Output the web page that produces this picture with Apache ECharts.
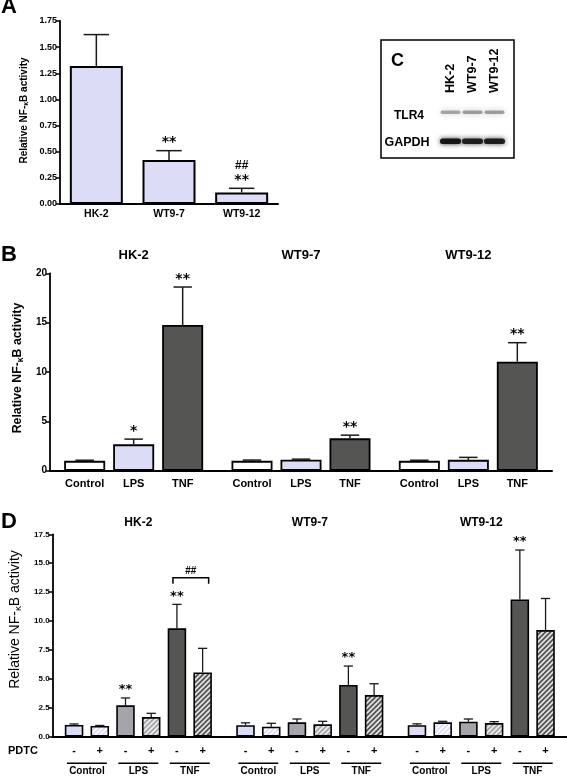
<!DOCTYPE html>
<html><head><meta charset="utf-8">
<script src="https://cdn.jsdelivr.net/npm/echarts@6/dist/echarts.min.js"></script>
<style>html,body{margin:0;padding:0;background:#fff}#c{width:567px;height:777px}</style>
</head><body><div id="c"></div>
<script>
const FONT = '"Liberation Sans", Arial, sans-serif';
const STARFONT = '"DejaVu Sans", sans-serif';

// ---------- Panel A ----------
const aCategories = ['HK-2', 'WT9-7', 'WT9-12'];
const aMeans = [1.32, 0.42, 0.11];
const aErrors = [0.30, 0.09, 0.04];
const aSig = ['', '**', '**'];
const aSig2 = ['', '', '##'];
const aTicks = [0, 1.75, 0.25];

// ---------- Panel B ----------
const bCellLines = ['HK-2', 'WT9-7', 'WT9-12'];
const bTreatments = ['Control', 'LPS', 'TNF'];
const bControl = [1.0, 1.0, 1.0];
const bLPS = [2.67, 1.12, 1.1];
const bTNF = [14.76, 3.28, 11.05];
const bControlErr = [0.06, 0.08, 0.06];
const bLPSErr = [0.53, 0.05, 0.25];
const bTNFErr = [3.85, 0.32, 1.92];
const bSigControl = ['', '', ''];
const bSigLPS = ['*', '', ''];
const bSigTNF = ['**', '**', '**'];
const bTicks = [0, 20, 5];

// ---------- Panel C (blot) ----------
const blotLanes = ['HK-2', 'WT9-7', 'WT9-12'];
const blotProteins = ['TLR4', 'GAPDH'];
const tlr4Intensity = [0.55, 0.6, 0.6];
const gapdhIntensity = [0.95, 0.88, 0.9];

// ---------- Panel D ----------
const dCellLines = ['HK-2', 'WT9-7', 'WT9-12'];
const dTreatments = ['Control', 'LPS', 'TNF'];
const dPDTC = ['-', '+'];
const dControlMinus = [1.01, 1.0, 1.0];
const dControlPlus = [0.93, 0.87, 1.24];
const dLPSMinus = [2.71, 1.24, 1.3];
const dLPSPlus = [1.70, 1.07, 1.18];
const dTNFMinus = [9.37, 4.47, 11.87];
const dTNFPlus = [5.56, 3.6, 9.22];
const dControlMinusErr = [0.09, 0.2, 0.11];
const dControlPlusErr = [0.04, 0.29, 0.09];
const dLPSMinusErr = [0.64, 0.29, 0.23];
const dLPSPlusErr = [0.32, 0.26, 0.12];
const dTNFMinusErr = [2.07, 1.64, 4.27];
const dTNFPlusErr = [2.08, 0.98, 2.73];
const dSigLPSMinus = ['**', '', ''];
const dSigTNFMinus = ['**', '**', '**'];
const dBracket = [0, 2, 13.74];   // cell line index, treatment index, level
const dBracketText = '##';
const dTicks = [0, 17.5, 2.5];

// ---------- styles ----------
const LAV = '#dcdcf6', DARK = '#555553', MID = '#a4a4aa', WHITE = '#ffffff';
const A_BAR_W = 53;
const B_BAR_W = 41, B_GAP = 0.195;
const D_BAR_W = 18.5, D_GAP = 0.39;

function hatchFill(bg, stripe) {
  const cv = document.createElement('canvas');
  const s = 5;
  cv.width = s; cv.height = s;
  const g = cv.getContext('2d');
  g.fillStyle = bg; g.fillRect(0, 0, s, s);
  g.strokeStyle = stripe; g.lineWidth = 1.7;
  g.beginPath();
  g.moveTo(-1, s + 1); g.lineTo(s + 1, -1);
  g.moveTo(-1, 1); g.lineTo(1, -1);
  g.moveTo(s - 1, s + 1); g.lineTo(s + 1, s - 1);
  g.stroke();
  return { image: cv, repeat: 'repeat' };
}
function nameStyle(size, weight, shift) {
  return { fontFamily: FONT, fontWeight: weight, fontSize: size, color: '#000',
    padding: [0, 0, 0, shift * 2],
    rich: { k: { fontFamily: FONT, fontWeight: weight, fontSize: size * 0.7, padding: [size * 0.45, 0, 0, 0], color: '#000' } } };
}
const NAME = 'Relative NF-{k|κ}B activity';

function yAxisCfg(gi, ticks, nameGap, labFont, labWeight, nameSize, nameWeight, decimals, shift) {
  return {
    type: 'value', gridIndex: gi, min: ticks[0], max: ticks[1], interval: ticks[2],
    name: NAME, nameLocation: 'middle', nameGap: nameGap, nameRotate: 90,
    nameTextStyle: nameStyle(nameSize, nameWeight, shift),
    axisLine: { show: true, onZero: false, lineStyle: { color: '#000', width: 1.8 } },
    axisTick: { show: true, length: 4, lineStyle: { color: '#000', width: 1.5 } },
    axisLabel: { margin: 3, fontFamily: FONT, fontWeight: labWeight, fontSize: labFont, color: '#000',
      formatter: v => decimals === null ? String(v) : v.toFixed(decimals) },
    splitLine: { show: false }
  };
}

function errSeries(xi, yi, meansList, errsList, sigList, sig2List, barW, gap, capRatio, starFont, starGap, lw) {
  const n = meansList.length;
  const data = [];
  meansList.forEach((arr, s) => arr.forEach((m, c) => data.push([c, s, m, errsList[s][c]])));
  return {
    type: 'custom', xAxisIndex: xi, yAxisIndex: yi, z: 5, silent: true,
    encode: { x: 0, y: 2 }, data: data,
    renderItem: (params, api) => {
      const c = api.value(0), s = api.value(1), m = api.value(2), e = api.value(3);
      const p0 = api.coord([c, m]), p1 = api.coord([c, m + e]);
      const x = p0[0] + (s - (n - 1) / 2) * barW * (1 + gap);
      const hw = barW * capRatio / 2;
      const st = { stroke: '#1a1a1a', lineWidth: lw };
      const ch = [
        { type: 'line', shape: { x1: x, y1: p0[1], x2: x, y2: p1[1] }, style: st },
        { type: 'line', shape: { x1: x - hw, y1: p1[1], x2: x + hw, y2: p1[1] }, style: st }
      ];
      const sig = sigList[s][c];
      if (sig) ch.push({ type: 'text', x: x, y: p1[1] - starGap,
        style: { text: sig, fill: '#000', font: starFont, align: 'center', verticalAlign: 'middle' } });
      const sig2 = sig2List ? sig2List[s][c] : '';
      if (sig2) ch.push({ type: 'text', x: x, y: p1[1] - starGap - 15,
        style: { text: sig2, fill: '#000', font: 'bold 12px ' + FONT, align: 'center', verticalAlign: 'middle' } });
      return { type: 'group', children: ch };
    }
  };
}

// ---------- series ----------
const series = [];
// A
series.push({ type: 'bar', xAxisIndex: 0, yAxisIndex: 0, data: aMeans, barWidth: A_BAR_W,
  itemStyle: { color: LAV, borderColor: '#000', borderWidth: 2 } });
series.push(errSeries(0, 0, [aMeans], [aErrors], [aSig], [aSig2], A_BAR_W, 0, 0.48, 'bold 14px ' + STARFONT, 8, 1.5));

// B
const bVals = [bControl, bLPS, bTNF];
const bErrs = [bControlErr, bLPSErr, bTNFErr];
const bCols = [WHITE, LAV, DARK];
bTreatments.forEach((t, i) => {
  series.push({ type: 'bar', name: t, xAxisIndex: 2, yAxisIndex: 1, data: bVals[i],
    barWidth: B_BAR_W, barGap: (B_GAP * 100) + '%',
    itemStyle: { color: bCols[i], borderColor: '#000', borderWidth: 1.8 },
    label: { show: true, position: 'bottom', distance: 8, formatter: t,
      fontFamily: FONT, fontWeight: 'bold', fontSize: 11, color: '#000' } });
});
series.push(errSeries(2, 1, bVals, bErrs, [bSigControl, bSigLPS, bSigTNF], null, B_BAR_W, B_GAP, 0.45, 'bold 14px ' + STARFONT, 8, 1.5));

// D
const dVals = [dControlMinus, dControlPlus, dLPSMinus, dLPSPlus, dTNFMinus, dTNFPlus];
const dErrs = [dControlMinusErr, dControlPlusErr, dLPSMinusErr, dLPSPlusErr, dTNFMinusErr, dTNFPlusErr];
const dFills = [LAV, hatchFill(LAV, 'rgba(255,255,255,0.95)'), MID, hatchFill(MID, 'rgba(240,240,240,0.95)'),
                DARK, hatchFill(DARK, 'rgba(235,235,235,0.95)')];
const dNoSig = ['', '', ''];
const dSigs = [dNoSig, dNoSig, dSigLPSMinus, dNoSig, dSigTNFMinus, dNoSig];
dVals.forEach((v, i) => {
  series.push({ type: 'bar', name: dTreatments[Math.floor(i / 2)] + dPDTC[i % 2], xAxisIndex: 4, yAxisIndex: 2,
    data: v, barWidth: D_BAR_W, barGap: (D_GAP * 100) + '%',
    itemStyle: { color: dFills[i], borderColor: '#000', borderWidth: 1.6 } });
});
series.push(errSeries(4, 2, dVals, dErrs, dSigs, null, D_BAR_W, D_GAP, 0.5, 'bold 13px ' + STARFONT, 8, 1.3));

// D bracket
series.push({ type: 'custom', xAxisIndex: 4, yAxisIndex: 2, z: 6, silent: true, encode: { x: 0, y: 2 },
  data: [dBracket],
  renderItem: (params, api) => {
    const c = api.value(0), t = api.value(1), lvl = api.value(2);
    const p = api.coord([c, lvl]);
    const step = D_BAR_W * (1 + D_GAP);
    const xm = p[0] + (2 * t - 2.5) * step, xp = xm + step;
    const x1 = xm - 4, x2 = xp + 6;
    return { type: 'group', children: [
      { type: 'polyline', shape: { points: [[x1, p[1] + 6], [x1, p[1]], [x2, p[1]], [x2, p[1] + 6]] },
        style: { stroke: '#000', lineWidth: 1.5, fill: null } },
      { type: 'text', x: (x1 + x2) / 2, y: p[1] - 7, style: { text: dBracketText, fill: '#000',
        font: 'bold 10px ' + FONT, align: 'center', verticalAlign: 'middle' } }
    ] };
  } });

// D bottom labels (PDTC -/+ and treatment underlines)
const dLabelData = [];
dCellLines.forEach((cl, c) => dTreatments.forEach((t, k) => dLabelData.push([c, k, 0])));
series.push({ type: 'custom', xAxisIndex: 4, yAxisIndex: 2, z: 6, silent: true, encode: { x: 0, y: 2 },
  data: dLabelData,
  renderItem: (params, api) => {
    const c = api.value(0), k = api.value(1);
    const p = api.coord([c, 0]);
    const step = D_BAR_W * (1 + D_GAP);
    const xm = p[0] + (2 * k - 2.5) * step, xp = xm + step, xc = (xm + xp) / 2;
    const f = 'bold 11px ' + FONT;
    return { type: 'group', children: [
      { type: 'text', x: xm, y: p[1] + 14.5, style: { text: dPDTC[0], font: f, fill: '#000', align: 'center', verticalAlign: 'middle' } },
      { type: 'text', x: xp, y: p[1] + 14.5, style: { text: dPDTC[1], font: f, fill: '#000', align: 'center', verticalAlign: 'middle' } },
      { type: 'line', shape: { x1: xc - 20, y1: p[1] + 26.5, x2: xc + 20, y2: p[1] + 26.5 }, style: { stroke: '#000', lineWidth: 1.6 } },
      { type: 'text', x: xc, y: p[1] + 35, style: { text: dTreatments[k], font: 'bold 10px ' + FONT, fill: '#000', align: 'center', verticalAlign: 'middle' } }
    ] };
  } });

// ---------- graphic (panel letters, blot) ----------
const graphic = [];
const LF = 'bold 22px ' + FONT;
graphic.push({ type: 'text', x: 1, y: 7, style: { text: 'A', font: LF, fill: '#000', verticalAlign: 'middle' } });
graphic.push({ type: 'text', x: 1, y: 255, style: { text: 'B', font: LF, fill: '#000', verticalAlign: 'middle' } });
graphic.push({ type: 'text', x: 1, y: 522, style: { text: 'D', font: LF, fill: '#000', verticalAlign: 'middle' } });
graphic.push({ type: 'text', x: 8, y: 751, style: { text: 'PDTC', font: 'bold 11px ' + FONT, fill: '#000', verticalAlign: 'middle' } });
// blot box
graphic.push({ type: 'rect', shape: { x: 381, y: 40, width: 133, height: 118 }, style: { fill: '#fff', stroke: '#000', lineWidth: 1.5 } });
graphic.push({ type: 'text', x: 391, y: 61, style: { text: 'C', font: 'bold 18px ' + FONT, fill: '#000', verticalAlign: 'middle' } });
const laneX = [450.5, 472.5, 494.5];
blotLanes.forEach((l, i) => {
  graphic.push({ type: 'text', x: laneX[i], y: 93, rotation: Math.PI / 2,
    style: { text: l, font: 'bold 12.5px ' + FONT, fill: '#000', align: 'left', verticalAlign: 'middle' } });
});
graphic.push({ type: 'text', x: 409, y: 116, style: { text: blotProteins[0], font: 'bold 12px ' + FONT, fill: '#000', align: 'center', verticalAlign: 'middle' } });
graphic.push({ type: 'text', x: 407, y: 143, style: { text: blotProteins[1], font: 'bold 12.5px ' + FONT, fill: '#000', align: 'center', verticalAlign: 'middle' } });
tlr4Intensity.forEach((a, i) => {
  graphic.push({ type: 'rect', shape: { x: laneX[i] - 10, y: 110.5, width: 20, height: 3.5, r: 1.7 },
    style: { fill: 'rgba(70,70,70,' + (a * 0.8) + ')', shadowBlur: 6, shadowColor: 'rgba(60,60,60,' + a + ')' } });
});
gapdhIntensity.forEach((a, i) => {
  graphic.push({ type: 'rect', shape: { x: laneX[i] - 10.5, y: 138.5, width: 21, height: 5.5, r: 2.5 },
    style: { fill: 'rgba(15,15,15,' + a + ')', shadowBlur: 5, shadowColor: 'rgba(30,30,30,' + a + ')' } });
});

// ---------- option ----------
const catLabel = (size) => ({ fontFamily: FONT, fontWeight: 'bold', fontSize: size, color: '#000' });
const option = {
  backgroundColor: '#fff',
  animation: false,
  grid: [
    { left: 60, top: 21, width: 218, height: 183 },
    { left: 50, top: 273.3, width: 502, height: 197.4 },
    { left: 50, top: 534.3, width: 517, height: 202.4 }
  ],
  xAxis: [
    { type: 'category', gridIndex: 0, data: aCategories,
      axisLine: { lineStyle: { color: '#000', width: 2 } }, axisTick: { show: false },
      axisLabel: Object.assign({ margin: 5 }, catLabel(10.5)) },
    { type: 'category', gridIndex: 1, data: bCellLines, position: 'top',
      axisLine: { show: false, onZero: false }, axisTick: { show: false },
      axisLabel: Object.assign({ margin: 11 }, catLabel(13)) },
    { type: 'category', gridIndex: 1, data: bCellLines, position: 'bottom',
      axisLine: { lineStyle: { color: '#000', width: 2 } }, axisTick: { show: false }, axisLabel: { show: false } },
    { type: 'category', gridIndex: 2, data: dCellLines, position: 'top',
      axisLine: { show: false, onZero: false }, axisTick: { show: false },
      axisLabel: Object.assign({ margin: 6 }, catLabel(12)) },
    { type: 'category', gridIndex: 2, data: dCellLines, position: 'bottom',
      axisLine: { lineStyle: { color: '#000', width: 2 } }, axisTick: { show: false }, axisLabel: { show: false } }
  ],
  yAxis: [
    yAxisCfg(0, aTicks, 30, 9, 'bold', 10, 'bold', 2, 2),
    yAxisCfg(1, bTicks, 20, 10, 'bold', 12.3, 'bold', null, 4),
    yAxisCfg(2, dTicks, 27, 8, 'bold', 14, 'normal', 1, 16)
  ],
  series: series,
  graphic: graphic
};
const chart = echarts.init(document.getElementById('c'));
chart.setOption(option);
</script>
</body></html>
